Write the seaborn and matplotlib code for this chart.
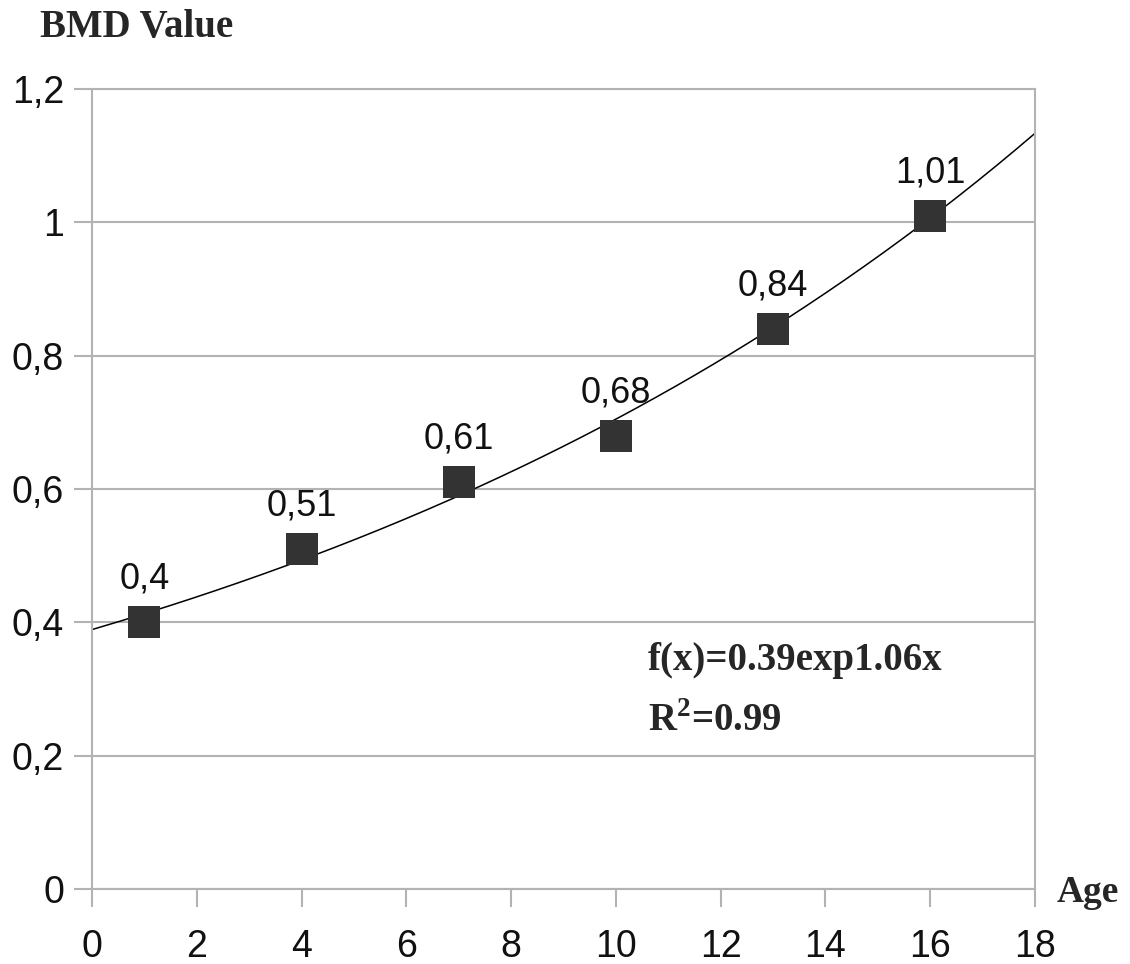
import numpy as np
import pandas as pd
import matplotlib
matplotlib.use("Agg")
import matplotlib.pyplot as plt
import seaborn as sns
from matplotlib.ticker import FuncFormatter

# Measured BMD values per age
ages = [1, 4, 7, 10, 13, 16]
bmd = [0.40, 0.51, 0.61, 0.68, 0.84, 1.01]
point_labels = ["0,4", "0,51", "0,61", "0,68", "0,84", "1,01"]
x_ticks = [0, 2, 4, 6, 8, 10, 12, 14, 16, 18]
y_ticks = [0, 0.2, 0.4, 0.6, 0.8, 1.0, 1.2]

df = pd.DataFrame({"Age": ages, "BMD": bmd})

# Exponential trend fitted on the data (log-linear least squares)
b, log_a = np.polyfit(df["Age"], np.log(df["BMD"]), 1)
trend_x = np.linspace(0, 18, 200)
trend = pd.DataFrame({"Age": trend_x, "BMD": np.exp(log_a) * np.exp(b * trend_x)})

sns.set_style("white")
plt.rcParams["font.family"] = ["Liberation Sans", "DejaVu Sans"]
plt.rcParams["mathtext.fontset"] = "custom"
plt.rcParams["mathtext.bf"] = "Liberation Serif:bold"
plt.rcParams["mathtext.rm"] = "Liberation Serif:bold"

fig = plt.figure(figsize=(11.3, 9.64), dpi=100)
ax = fig.add_axes([0.0814, 0.0778, 0.8345, 0.8299])

grid_col = "#b3b3b3"
for y in y_ticks:
    ax.axhline(y, color=grid_col, lw=1.5, zorder=0)

sns.lineplot(data=trend, x="Age", y="BMD", color="black", lw=1.1, ax=ax, zorder=2)
sns.scatterplot(data=df, x="Age", y="BMD", marker="s", s=560, color="#333333",
                edgecolor="#333333", linewidth=0, ax=ax, zorder=3)

for x, y, lab in zip(ages, bmd, point_labels):
    ax.annotate(lab, (x, y), xytext=(0, 24), textcoords="offset points",
                ha="center", va="baseline", fontsize=26, color="#111111")

ax.set_xlim(0, 18)
ax.set_ylim(0, 1.2)
ax.set_xticks(x_ticks)
ax.set_yticks(y_ticks)
ax.yaxis.set_major_formatter(FuncFormatter(lambda v, p: f"{v:g}".replace(".", ",")))
ax.tick_params(axis="both", direction="out", length=13, width=1.5, color=grid_col,
               labelsize=27, labelcolor="#111111", bottom=True, left=True)
ax.tick_params(axis="x", pad=16)
ax.tick_params(axis="y", pad=7)
ax.set_xlabel("")
ax.set_ylabel("")
for s in ax.spines.values():
    s.set_color(grid_col)
    s.set_linewidth(1.5)
    s.set_visible(True)

serif = ["Liberation Serif", "DejaVu Serif"]
fig.text(0.035, 1 - 27 / 964, "BMD Value", family=serif, fontweight="bold",
         fontsize=28, va="center", ha="left")
fig.text(1057 / 1130, 1 - 892 / 964, "Age", family=serif, fontweight="bold",
         fontsize=27, va="center", ha="left")
ax.text(0.5896, 0.286, "f(x)=0.39exp1.06x", transform=ax.transAxes, family=serif,
        fontweight="bold", fontsize=28, va="center", ha="left")
ax.text(0.5896, 0.209, r"R$^{\mathbf{2}}$=0.99", transform=ax.transAxes, family=serif,
        fontweight="bold", fontsize=28, va="center", ha="left")

fig.savefig("out.png", dpi=100, facecolor="white")
